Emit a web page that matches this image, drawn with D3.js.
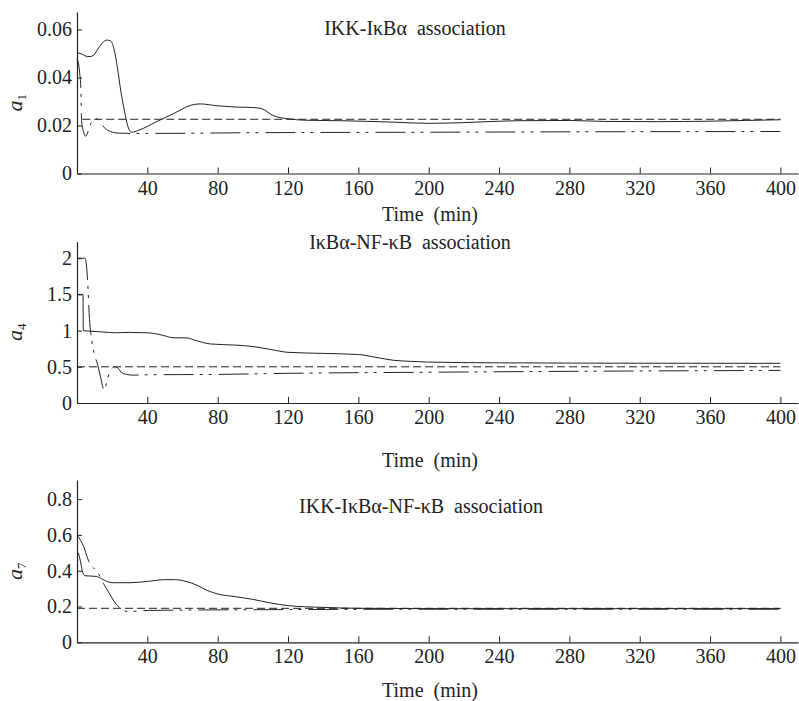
<!DOCTYPE html>
<html>
<head>
<meta charset="utf-8">
<script src="https://cdn.jsdelivr.net/npm/d3@7"></script>
<style>
  body { margin: 0; background: #fff; }
  svg { display: block; }
  text { white-space: pre; }
</style>
</head>
<body>
<div id="chart"></div>
<script>
// x ticks shared by all panels
const timeTicks = [40, 80, 120, 160, 200, 240, 280, 320, 360, 400];

// panel 1: IKK-IkBa association (a1)
const p1Ticks = [0, 0.02, 0.04, 0.06];
const p1Solid = [[0.5,0.0503],[3,0.0497],[6,0.0487],[9,0.049],[12,0.052],[15,0.0548],[17,0.0556],[19,0.0553],[21,0.052],[23,0.044],[25,0.034],[27,0.026],[29,0.0195],[31,0.0172],[35,0.018],[45,0.0215],[55,0.025],[65,0.0285],[70,0.029],[80,0.0282],[90,0.0277],[100,0.0275],[105,0.027],[112,0.024],[120,0.0228],[130,0.0222],[150,0.022],[180,0.0214],[200,0.0209],[220,0.0212],[250,0.022],[280,0.0221],[300,0.0217],[330,0.0216],[360,0.0218],[380,0.0221],[400,0.0224]];
const p1Dashed = [[3,0.0226],[400,0.0226]];
const p1DashDot = [[0,0.048],[0.8,0.046],[1.5,0.042],[2.2,0.035],[2.6,0.022],[3.5,0.018],[5,0.0155],[6.5,0.018],[8,0.021],[11,0.0228],[13.5,0.021],[16,0.0188],[19,0.0175],[24,0.0168],[40,0.0167],[100,0.017],[200,0.0172],[300,0.0174],[400,0.0175]];

// panel 2: IkBa-NF-kB association (a4)
const p2Ticks = [0, 0.5, 1, 1.5, 2];
const p2Solid = [[0,1.5],[3.4,1.5],[3.6,1.0],[6,0.995],[15,0.98],[22,0.97],[30,0.975],[40,0.97],[48,0.94],[55,0.9],[62,0.9],[68,0.86],[76,0.815],[90,0.8],[100,0.78],[110,0.74],[120,0.7],[140,0.685],[160,0.67],[170,0.63],[180,0.59],[190,0.575],[200,0.565],[240,0.555],[300,0.55],[400,0.548]];
const p2Dashed = [[0,0.5],[400,0.5]];
const p2DashDot = [[0,2.0],[4.5,2.0],[5.3,1.92],[6,1.7],[7,1.2],[8.5,0.85],[10,0.66],[11.5,0.55],[13,0.4],[15.5,0.18],[17.5,0.35],[19.5,0.46],[21,0.5],[23,0.49],[25,0.43],[28,0.395],[32,0.385],[40,0.39],[80,0.395],[120,0.41],[200,0.425],[300,0.44],[400,0.45]];

// panel 3: IKK-IkBa-NF-kB association (a7)
const p3Ticks = [0, 0.2, 0.4, 0.6, 0.8];
const p3Solid = [[0.8,0.5],[2,0.45],[3,0.4],[4.5,0.372],[8,0.37],[11,0.368],[14,0.355],[17,0.34],[20,0.333],[30,0.333],[40,0.34],[50,0.35],[56,0.35],[62,0.34],[68,0.32],[74,0.29],[80,0.27],[90,0.255],[100,0.24],[110,0.22],[120,0.205],[140,0.195],[160,0.19],[200,0.188],[400,0.188]];
const p3Dashed = [[0,0.19],[400,0.19]];
const p3DashDot = [[0,0.6],[2,0.57],[4,0.53],[6,0.47],[8,0.43],[10,0.41],[11.5,0.39],[13,0.37],[15,0.33],[18,0.28],[21,0.23],[24,0.195],[27,0.175],[30,0.172],[40,0.178],[60,0.18],[100,0.182],[200,0.185],[400,0.185]];

const serif = '"Liberation Serif", "DejaVu Serif", serif';
const ink = '#222';

const width = 799, height = 701;
const svg = d3.select('#chart').append('svg')
    .attr('width', width)
    .attr('height', height)
    .style('font-family', serif);

const x0 = 77, x1 = 798;

const panels = [
  { title: 'IKK-I\u03baB\u03b1  association', titleX: 415, titleY: 35, sub: '1',
    top: 12, bottom: 173.5, ymax: 0.0673, ticks: p1Ticks, fmt: d3.format('.2f'),
    timeY: 221, series: [p1Solid, p1Dashed, p1DashDot] },
  { title: 'I\u03baB\u03b1-NF-\u03baB  association', titleX: 410, titleY: 249, sub: '4',
    top: 241.7, bottom: 403, ymax: 2.228, ticks: p2Ticks, fmt: d => d,
    timeY: 467, series: [p2Solid, p2Dashed, p2DashDot] },
  { title: 'IKK-I\u03baB\u03b1-NF-\u03baB  association', titleX: 421, titleY: 513, sub: '7',
    top: 480, bottom: 642.3, ymax: 0.907, ticks: p3Ticks, fmt: d => d,
    timeY: 697, series: [p3Solid, p3Dashed, p3DashDot] }
];

const dashes = [null, '8,4', '30,6,3,6,3,7'];

const x = d3.scaleLinear().domain([0, 410]).range([x0, x1]);

// restyle axis so its labels use the serif face
function styleAxis(a) {
  a.attr('font-family', null).attr('font-size', null);
  a.selectAll('text')
      .style('font-family', serif)
      .style('font-size', '20px')
      .attr('fill', ink);
  a.selectAll('line').attr('stroke', ink);
  a.select('.domain').attr('stroke', ink).attr('stroke-width', 1.2);
}

panels.forEach(p => {
  const y = d3.scaleLinear().domain([0, p.ymax]).range([p.bottom, p.top]);

  const g = svg.append('g');

  // x axis with inward ticks
  g.append('g')
      .attr('transform', `translate(0,${p.bottom})`)
      .call(d3.axisBottom(x).tickValues(timeTicks).tickSizeInner(-6).tickSizeOuter(0).tickPadding(7))
      .call(styleAxis);

  // y axis
  g.append('g')
      .attr('transform', `translate(${x0},0)`)
      .call(d3.axisLeft(y).tickValues(p.ticks).tickFormat(d => d === 0 ? '0' : p.fmt(d)).tickSizeInner(-5).tickSizeOuter(0).tickPadding(5))
      .call(styleAxis);

  const line = d3.line()
      .x(d => x(d[0]))
      .y(d => y(d[1]))
      .curve(d3.curveMonotoneX);

  p.series.forEach((s, i) => {
    g.append('path')
        .datum(s)
        .attr('d', line)
        .attr('fill', 'none')
        .attr('stroke', ink)
        .attr('stroke-width', 1)
        .attr('stroke-dasharray', dashes[i]);
  });

  // title
  g.append('text')
      .attr('x', p.titleX)
      .attr('y', p.titleY)
      .attr('text-anchor', 'middle')
      .attr('font-size', 20)
      .attr('fill', ink)
      .text(p.title);

  // x label
  g.append('text')
      .attr('x', 430)
      .attr('y', p.timeY)
      .attr('text-anchor', 'middle')
      .attr('font-size', 20)
      .attr('fill', ink)
      .text('Time  (min)');

  // y label a_n
  const yl = g.append('text')
      .attr('transform', `translate(22,${(p.top + p.bottom) / 2 + 10}) rotate(-90)`)
      .attr('text-anchor', 'middle')
      .attr('fill', ink);
  yl.append('tspan').attr('font-style', 'italic').attr('font-size', 22).text('a');
  yl.append('tspan').attr('font-size', 13).attr('dy', 4).text(p.sub);
});
</script>
</body>
</html>
